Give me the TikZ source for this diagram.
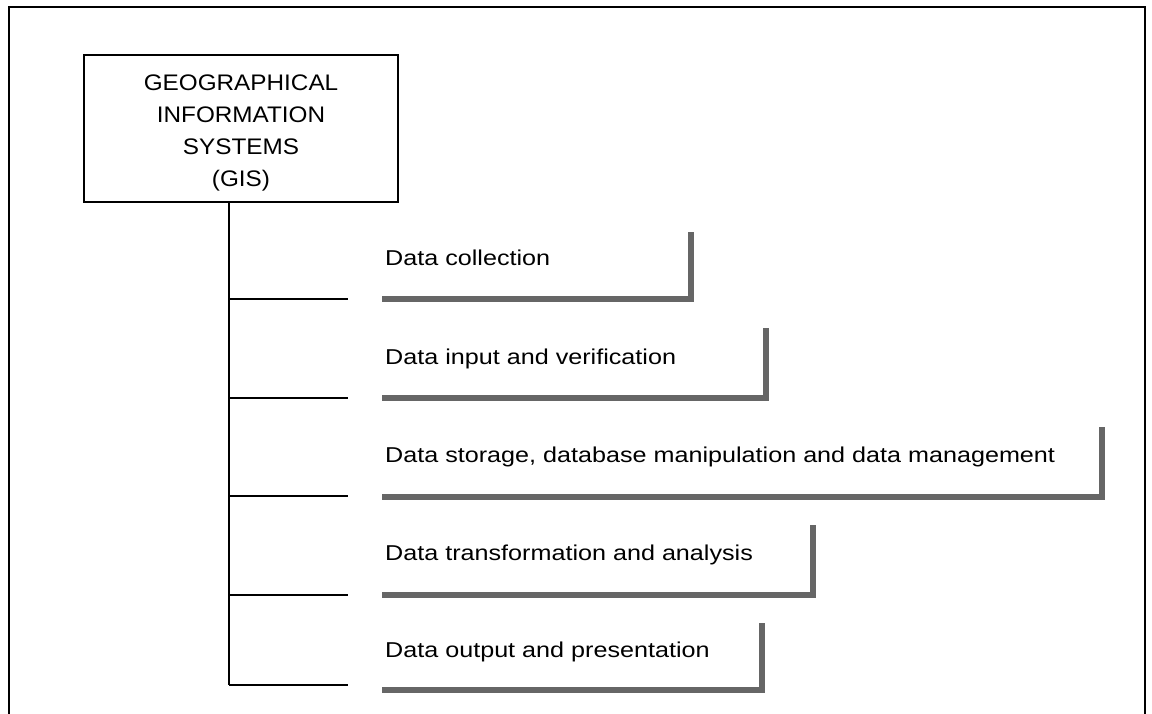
\documentclass[tikz,border=0pt]{standalone}
\usepackage{fontspec}
\setmainfont{Liberation Sans}
\newfontfamily\itemfont[FakeStretch=1.17]{Liberation Sans}
\newfontfamily\boxfont[FakeStretch=1.08]{Liberation Sans}
\begin{document}
\begin{tikzpicture}[x=1pt,y=-1pt,
  frame/.style={line width=2.2pt,black},
  gisbox/.style={draw,line width=2pt,minimum width=314pt,minimum height=147pt,inner sep=0pt},
  boxtext/.style={align=center,inner sep=0pt,font=\boxfont\fontsize{22.5}{32}\selectfont},
  itemtext/.style={anchor=base west,inner sep=0pt,font=\itemfont\fontsize{21.5}{26}\selectfont},
  branch/.style={line width=1.8pt,black},
  shade/.style={line width=6pt,color=black!60}]
\useasboundingbox (0,0) rectangle (1152,714);
\fill[white] (0,0) rectangle (1152,714);
% outer frame (bottom open)
\draw[frame] (9,714) -- (9,7) -- (1145,7) -- (1145,714);
% main box
\node[gisbox] (gis) at (241,128.5) {};
\node[boxtext] (gistext) at ([yshift=-4pt]gis.center) {GEOGRAPHICAL\\INFORMATION\\SYSTEMS\\(GIS)};
% trunk
\coordinate (trunkend) at (229,685);
\draw[branch] (gis.south -| trunkend) -- (trunkend);
% branch points on trunk and their ends
\coordinate (b1) at (229,299); \coordinate (e1) at (348,299);
\coordinate (b2) at (229,398); \coordinate (e2) at (348,398);
\coordinate (b3) at (229,496); \coordinate (e3) at (348,496);
\coordinate (b4) at (229,595); \coordinate (e4) at (348,595);
\coordinate (e5) at (348,685);
\draw[branch] (b1) -- (e1);
\draw[branch] (b2) -- (e2);
\draw[branch] (b3) -- (e3);
\draw[branch] (b4) -- (e4);
\draw[branch] (trunkend) -- (e5);
% item texts
\node[itemtext] (t1) at (385,266) {Data collection};
\node[itemtext] (t2) at (385,364) {Data input and verification};
\node[itemtext] (t3) at (385,462) {Data storage, database manipulation and data management};
\node[itemtext] (t4) at (385,560) {Data transformation and analysis};
\node[itemtext] (t5) at (385,657) {Data output and presentation};
% shaded corners
\coordinate (s1a) at (382,299); \coordinate (s1b) at (691,299); \coordinate (s1c) at (691,232);
\coordinate (s2a) at (382,398); \coordinate (s2b) at (766,398); \coordinate (s2c) at (766,328);
\coordinate (s3a) at (382,497); \coordinate (s3b) at (1102,497); \coordinate (s3c) at (1102,427);
\coordinate (s4a) at (382,595); \coordinate (s4b) at (813,595); \coordinate (s4c) at (813,525);
\coordinate (s5a) at (382,690); \coordinate (s5b) at (762,690); \coordinate (s5c) at (762,623);
\draw[shade] (s1a) -- (s1b) -- (s1c);
\draw[shade] (s2a) -- (s2b) -- (s2c);
\draw[shade] (s3a) -- (s3b) -- (s3c);
\draw[shade] (s4a) -- (s4b) -- (s4c);
\draw[shade] (s5a) -- (s5b) -- (s5c);
\end{tikzpicture}
\end{document}
